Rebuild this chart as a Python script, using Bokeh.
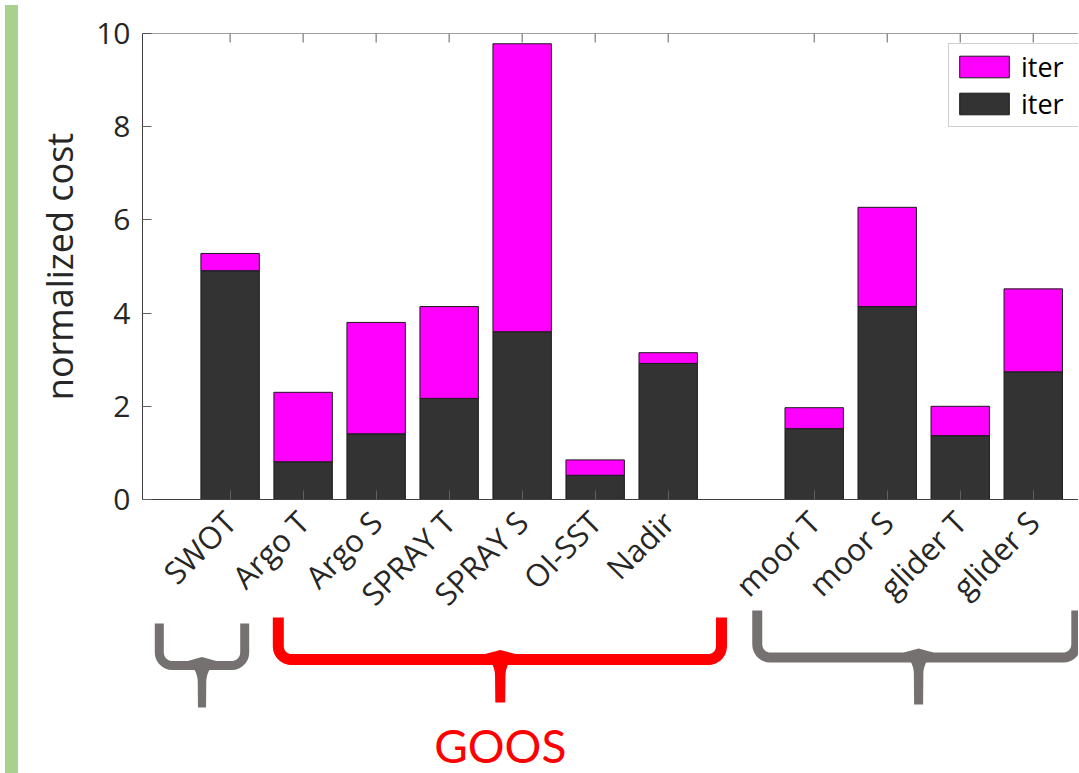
import math
import numpy as np
from bokeh.plotting import figure
from bokeh.models import (ColumnDataSource, FixedTicker, Range1d,
                          Legend, LegendItem, Div, Span)
from bokeh.layouts import row
from bokeh.embed import file_html
from bokeh.resources import INLINE
from bokeh.core.properties import value

# ---------------- data ----------------
categories = ["SWOT", "Argo T", "Argo S", "SPRAY T", "SPRAY S", "OI-SST", "Nadir",
              "moor T", "moor S", "glider T", "glider S"]
positions = [1, 2, 3, 4, 5, 6, 7, 9, 10, 11, 12]
dark_part = [4.91, 0.81, 1.41, 2.17, 3.60, 0.52, 2.92, 1.52, 4.14, 1.37, 2.74]
magenta_part = [0.37, 1.49, 2.39, 1.97, 6.18, 0.33, 0.23, 0.45, 2.13, 0.63, 1.78]
legend_labels = ["iter", "iter"]
y_ticks = [0, 2, 4, 6, 8, 10]

# group braces below the axis (slide annotations, x in data units)
group_labels = ["", "GOOS", ""]
brace_left = [0.03, 1.66, 8.22]
brace_mid = [0.615, 4.70, 10.43]
brace_right = [1.20, 7.73, 12.59]
brace_colors = ["#767171", "#ff0000", "#767171"]
# vertical placement in pixels below the x axis
brace_top_px = [124, 118, 111]
brace_bar_px = [166, 160, 158]
brace_bottom_px = [208, 203, 205]
brace_width_px = [9, 11, 10]

TXT = "#262626"
FONT = "Open Sans"

X0, X1 = -0.2, 12.62
FRAME_W, FRAME_H = 936, 466
PXX = FRAME_W / (X1 - X0)
PXY = FRAME_H / 10.0

p = figure(width=1055, height=773,
           x_range=Range1d(X0, X1), y_range=Range1d(0, 10),
           output_backend="svg", toolbar_location=None,
           min_border_left=119, min_border_top=33, min_border_right=0,
           min_border_bottom=274)
p.outline_line_color = None
p.xgrid.visible = False
p.ygrid.visible = False
p.background_fill_color = "white"
p.border_fill_color = "white"

src = ColumnDataSource(dict(x=positions, dark=dark_part, mag=magenta_part))
rs = p.vbar_stack(["dark", "mag"], x="x", width=0.8, source=src,
                  fill_color=["#333333", "#ff00ff"], line_color="#1a1a1a",
                  line_width=1)

# axes
xa = p.xaxis[0]
xa.ticker = FixedTicker(ticks=positions)
xa.major_label_overrides = {pos: name for pos, name in zip(positions, categories)}
xa.major_label_orientation = math.pi / 4
ya = p.yaxis[0]
ya.ticker = FixedTicker(ticks=y_ticks)
ya.axis_label = "normalized cost"
ya.axis_label_text_font_size = "36px"
ya.axis_label_text_font = FONT
ya.axis_label_text_font_style = "normal"
ya.axis_label_text_color = TXT
ya.axis_label_standoff = 9

for ax in (xa, ya):
    ax.major_tick_in = 9
    ax.major_tick_out = 0
    ax.minor_tick_in = 0
    ax.minor_tick_out = 0
    ax.axis_line_color = "#404040"
    ax.major_tick_line_color = "#606060"
    ax.major_label_text_color = TXT
    ax.major_label_text_font = FONT
xa.major_label_text_font_size = "31px"
xa.major_label_standoff = 17
ya.major_label_text_font_size = "30px"
ya.major_label_standoff = 12

# top box edge with inward ticks
p.add_layout(Span(location=10, dimension="width", line_color="#404040", line_width=1))
tick_len = 9 / PXY
p.segment(x0=positions, x1=positions, y0=[10] * len(positions),
          y1=[10 - tick_len] * len(positions), line_color="#606060", line_width=1)

# legend (two separate entries with the same label)
legend = Legend(items=[LegendItem(label=legend_labels[0], renderers=[rs[1]]),
                       LegendItem(label=legend_labels[1], renderers=[rs[0]])],
                location=(806, 372))
legend.glyph_width = 62
legend.glyph_height = 27
legend.label_height = 27
legend.label_width = 70
legend.spacing = -2
legend.padding = 4
legend.margin = 0
legend.label_standoff = 6
legend.label_text_font = FONT
legend.label_text_font_size = "27px"
legend.label_text_color = "black"
legend.border_line_color = "#a0a0a0"
legend.border_line_width = 1
legend.background_fill_color = "white"
legend.background_fill_alpha = 1
p.add_layout(legend)

# braces (rounded arms + flared stem), geometry built in pixel offsets
def to_x(base, dpx):
    return float(base + dpx / PXX)

def to_y(dpx):
    return float(-dpx / PXY)

line_xs, line_ys = [], []
r = 13.0
for L, M, R, T, B, S, w, col in zip(brace_left, brace_mid, brace_right, brace_top_px,
                                    brace_bar_px, brace_bottom_px, brace_width_px,
                                    brace_colors):
    xs_, ys_ = [to_x(L, 0), to_x(L, 0)], [to_y(T), to_y(B - r)]
    for th in np.linspace(math.pi, math.pi / 2, 8):
        xs_.append(to_x(L, r + r * math.cos(th)))
        ys_.append(to_y(B - r + r * math.sin(th)))
    for th in np.linspace(math.pi / 2, 0, 8):
        xs_.append(to_x(R, -r + r * math.cos(th)))
        ys_.append(to_y(B - r + r * math.sin(th)))
    xs_ += [to_x(R, 0)]
    ys_ += [to_y(T)]
    line_xs.append(xs_)
    line_ys.append(ys_)
    # flared stem with a small cusp on top
    hw = w / 2.0
    left_side = []
    for t in np.linspace(0, 1, 9):
        yy = B - hw + t * (hw + 16)
        half = hw * 0.95 + 10 * (1 - t) ** 2
        left_side.append((-half, yy))
    pts = ([(0.0, B - hw - 4)] + left_side + [(-hw * 0.9, S), (hw * 0.9, S)]
           + [(-a, b) for a, b in reversed(left_side)])
    p.patch(x=[to_x(M, a) for a, b in pts], y=[to_y(b) for a, b in pts],
            fill_color=col, line_color=None, level="overlay")

p.multi_line(xs=line_xs, ys=line_ys, line_color=brace_colors, line_width=brace_width_px,
             line_join="round", line_cap="butt", level="overlay")

lab_x = [m for lab, m in zip(group_labels, brace_mid) if lab]
lab_t = [lab for lab in group_labels if lab]
lab_c = [c for lab, c in zip(group_labels, brace_colors) if lab]
p.text(x=lab_x, y=[to_y(246)] * len(lab_x), text=lab_t, text_color=lab_c,
       text_align="center", text_baseline="middle",
       text_font=value("Lato"), text_font_size="46px", level="overlay")

green = Div(width=13, height=773, styles={"background-color": "#a9d18e"})
layout = row(green, p)

open("out.html", "w").write(file_html(layout, INLINE))
